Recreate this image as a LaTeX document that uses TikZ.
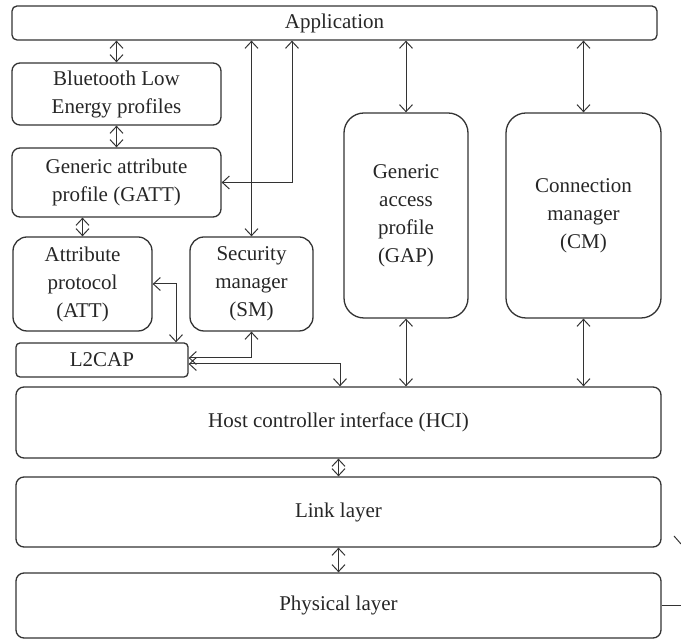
\documentclass[tikz,border=0pt]{standalone}
\usepackage{fontspec}
\setmainfont{Liberation Serif}
\usetikzlibrary{arrows.meta}

\begin{document}
\begin{tikzpicture}[x=0.5pt, y=-0.5pt,
    every node/.style={font=\fontsize{10.5}{14}\selectfont, text=black!85},
    block/.style={draw=black!80, line width=0.65pt, rounded corners=4pt, align=center, inner sep=0pt},
    biarrow/.style={draw=black!80, line width=0.5pt, {Straight Barb[length=3.5pt,width=6.5pt]}-{Straight Barb[length=3.5pt,width=6.5pt]}}]
    \useasboundingbox (0,0) rectangle (681,640);
    % Host
    \node[block, rounded corners=2.5pt, minimum width=322.5pt, minimum height=17pt] (app) at (334.5,23) {Application};
    \node[block, minimum width=104.5pt, minimum height=31pt] (ble) at (116.5,94) {Bluetooth Low\\Energy profiles};
    \node[block, minimum width=104.5pt, minimum height=34.5pt] (gatt) at (116.5,182.5) {Generic attribute\\profile (GATT)};
    \node[block, rounded corners=7pt, minimum width=69.5pt, minimum height=47pt] (att) at (82.5,284) {Attribute\\protocol\\(ATT)};
    \node[block, rounded corners=7pt, minimum width=61.5pt, minimum height=47pt] (sm) at (251.5,284) {Security\\manager\\(SM)};
    \node[block, rounded corners=2pt, minimum width=86pt, minimum height=17pt] (l2cap) at (102,360) {L2CAP};
    \node[block, rounded corners=10pt, minimum width=62pt, minimum height=102.5pt] (gap) at (406,215.5) {Generic\\access\\profile\\(GAP)};
    \node[block, rounded corners=10pt, minimum width=77.5pt, minimum height=102.5pt] (cm) at (583.5,215.5) {Connection\\manager\\(CM)};
    % Controller
    \node[block, minimum width=322.5pt, minimum height=35.5pt] (hci) at (338.5,422.5) {Host controller interface (HCI)};
    \node[block, minimum width=322.5pt, minimum height=35pt] (ll) at (338.5,512) {Link layer};
    \node[block, minimum width=322.5pt, minimum height=32.5pt] (phy) at (338.5,605.5) {Physical layer};
    % Connectors
    \draw[biarrow] (ble.north) -- (app.south -| ble.north);
    \draw[biarrow] (ble.south) -- (gatt.north);
    \draw[biarrow] (gatt.south -| att.north) -- (att.north);
    \draw[biarrow] (gatt.east) -| (app.south -| 292,0);
    \draw[biarrow] (sm.north) -- (app.south -| sm.north);
    \draw[biarrow] (gap.north) -- (app.south -| gap.north);
    \draw[biarrow] (cm.north) -- (app.south -| cm.north);
    \draw[biarrow] (att.east) -| (l2cap.north -| 176,0);
    \draw[biarrow] ([yshift=1pt]l2cap.east) -| (sm.south);
    \draw[biarrow] ([yshift=-2pt]l2cap.east) -| (hci.north -| 340,0);
    \draw[biarrow] (gap.south) -- (hci.north -| gap.south);
    \draw[biarrow] (cm.south) -- (hci.north -| cm.south);
    \draw[biarrow] (hci.south) -- (ll.north);
    \draw[biarrow] (ll.south) -- (phy.north);
    % Cut-off strokes at the right edge
    \draw[black!80, line width=0.5pt] (phy.east) -- (phy.east -| 681,0);
    \draw[black!80, line width=0.5pt] (674,536) -- (681,544);
\end{tikzpicture}
\end{document}
